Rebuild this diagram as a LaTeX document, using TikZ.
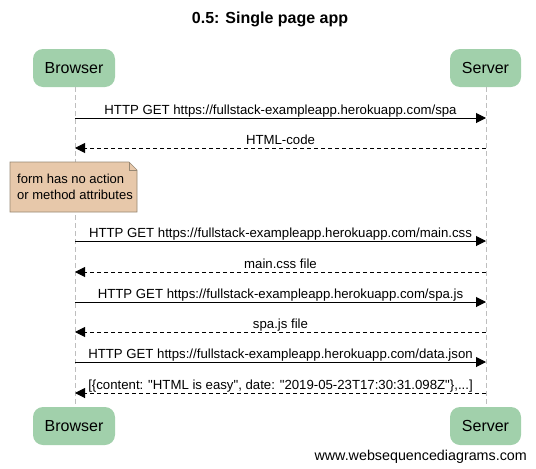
\documentclass[tikz,border=0pt]{standalone}
\usepackage{fontspec}
\setmainfont{Liberation Sans}[Ligatures=TeXOff]
\usetikzlibrary{arrows.meta}
\definecolor{akteur}{RGB}{161,208,171}
\definecolor{notiz}{RGB}{231,200,170}
\definecolor{notizrand}{RGB}{150,135,115}
\definecolor{lebenslinie}{RGB}{190,190,190}
\begin{document}
\begin{tikzpicture}[x=1pt, y=-1pt,
    akteur/.style={fill=akteur, rounded corners=10pt, minimum width=82pt, minimum height=38pt, font=\fontsize{16}{19}\selectfont},
    anfrage/.style={draw=black, line width=1pt, -{Triangle[length=10pt,width=10pt]}},
    antwort/.style={anfrage, dash pattern=on 4pt off 3pt},
    beschr/.style={midway, anchor=base, yshift=4pt, inner sep=0pt, font=\fontsize{13.2}{15}\selectfont}]
    \useasboundingbox (0,0) rectangle (536,469);
    % Titel
    \node[font=\bfseries\fontsize{16}{19}\selectfont] (titel) at (270,19) {0.5: Single page app};
    % Teilnehmer
    \node[akteur] (browser) at (74,68) {Browser};
    \node[akteur, minimum width=71pt] (server) at (485.5,68) {Server};
    \node[akteur] (browserU) at (74,426) {Browser};
    \node[akteur, minimum width=71pt] (serverU) at (485.5,426) {Server};
    % Lebenslinien
    \draw[lebenslinie, dash pattern=on 5pt off 3pt] (browser.south -| 75,0) -- (browserU.north -| 75,0);
    \draw[lebenslinie, dash pattern=on 5pt off 3pt] (server.south -| 486,0) -- (serverU.north -| 486,0);
    % Punkte auf den Lebenslinien
    \coordinate (b1) at (75,118);  \coordinate (s1) at (486,118);
    \coordinate (b2) at (75,148);  \coordinate (s2) at (486,148);
    \coordinate (b3) at (75,241);  \coordinate (s3) at (486,241);
    \coordinate (b4) at (75,272);  \coordinate (s4) at (486,272);
    \coordinate (b5) at (75,302);  \coordinate (s5) at (486,302);
    \coordinate (b6) at (75,332);  \coordinate (s6) at (486,332);
    \coordinate (b7) at (75,362);  \coordinate (s7) at (486,362);
    \coordinate (b8) at (75,393);  \coordinate (s8) at (486,393);
    % Nachrichten
    \draw[anfrage] (b1) -- node[beschr] {HTTP GET https://fullstack-exampleapp.herokuapp.com/spa} (s1);
    \draw[antwort] (s2) -- node[beschr] {HTML-code} (b2);
    \draw[anfrage] (b3) -- node[beschr] {HTTP GET https://fullstack-exampleapp.herokuapp.com/main.css} (s3);
    \draw[antwort] (s4) -- node[beschr] {main.css file} (b4);
    \draw[anfrage] (b5) -- node[beschr] {HTTP GET https://fullstack-exampleapp.herokuapp.com/spa.js} (s5);
    \draw[antwort] (s6) -- node[beschr] {spa.js file} (b6);
    \draw[anfrage] (b7) -- node[beschr] {HTTP GET https://fullstack-exampleapp.herokuapp.com/data.json} (s7);
    \draw[antwort] (s8) -- node[beschr] {[\{content: "HTML is easy", date: "2019-05-23T17:30:31.098Z"\},...]} (b8);
    % Notiz
    \draw[fill=notiz, draw=notizrand, line width=0.6pt] (10,162) -- (129,162) -- (137,170) -- (137,212) -- (10,212) -- cycle;
    \draw[draw=notizrand, line width=0.6pt] (129,162) -- (129,170) -- (137,170);
    \node[anchor=west, align=left, inner sep=0pt, font=\fontsize{13}{16}\selectfont] (notiz) at (17,187) {form has no action\\or method attributes};
    % Fusszeile
    \node[anchor=base east, inner sep=0pt, font=\fontsize{14.3}{16}\selectfont] (fuss) at (527,460) {www.websequencediagrams.com};
\end{tikzpicture}
\end{document}
